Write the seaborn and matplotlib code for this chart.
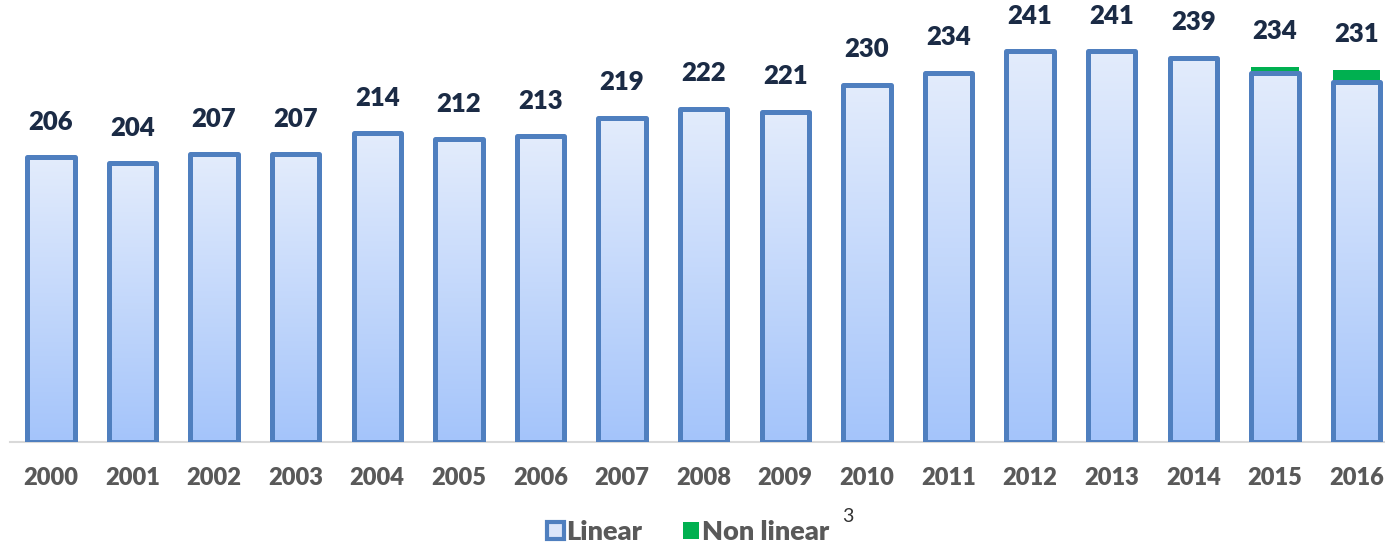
import numpy as np
import pandas as pd
import seaborn as sns
import matplotlib.pyplot as plt
from matplotlib.colors import LinearSegmentedColormap
from matplotlib.patches import Patch

years = [str(y) for y in range(2000, 2017)]
linear = [206, 204, 207, 207, 214, 212, 213, 219, 222, 221, 230, 234, 241, 241, 239, 234, 231]
non_linear = [0, 0, 0, 0, 0, 0, 0, 0, 0, 0, 0, 0, 0, 0, 0, 2, 4]

EDGE = '#4F7FBF'
GREEN = '#00B050'
LABEL = '#1B2B45'
GREY = '#595959'
BASE = 112

df = pd.DataFrame({'year': years, 'linear': linear, 'non_linear': non_linear})
df['total'] = df['linear'] + df['non_linear']

sns.set_style('white')
plt.rcParams['font.family'] = ['Lato', 'DejaVu Sans']

fig = plt.figure(figsize=(13.85, 5.43), dpi=100)
ax = fig.add_axes([0, 101 / 543, 1, 442 / 543])

sns.barplot(data=df, x='year', y='total', color=GREEN, width=0.58, ax=ax)
sns.barplot(data=df, x='year', y='linear', color=EDGE, width=0.58, ax=ax)

n = len(df)
grad = LinearSegmentedColormap.from_list('g', ['#A4C4FA', '#E3ECFC'])
for i, p in enumerate(ax.patches):
    top = p.get_y() + p.get_height()
    p.set_y(BASE)
    p.set_height(top - BASE)
    if i < n:
        p.set_facecolor(GREEN)
        p.set_edgecolor('none')
        p.set_linewidth(0)
        p.set_zorder(1)
    else:
        p.set_facecolor('none')
        p.set_edgecolor(EDGE)
        p.set_linewidth(3.6)
        p.set_joinstyle('round')
        p.set_zorder(3)
        x0, w = p.get_x(), p.get_width()
        im = ax.imshow(np.linspace(0, 1, 256).reshape(-1, 1), cmap=grad,
                       extent=[x0, x0 + w, BASE, top], origin='lower',
                       aspect='auto', zorder=2)
        im.set_clip_path(p)

for i, v in enumerate(linear):
    ax.annotate(str(v), (i, df['total'][i]), xytext=(0, 17), textcoords='offset points',
                ha='center', va='bottom', fontsize=18.5, fontweight='heavy', color=LABEL)

ax.set_xlim(-0.623, 16.35)
ax.set_ylim(BASE, 258)
ax.set_yticks([])
ax.set_xlabel('')
ax.set_ylabel('')
for s in ['top', 'left', 'right']:
    ax.spines[s].set_visible(False)
ax.spines['bottom'].set_color('#D9D9D9')
ax.spines['bottom'].set_linewidth(1.5)
ax.spines['bottom'].set_bounds(-0.5, 16.35)
ax.tick_params(axis='x', length=0, pad=18, labelsize=17, labelcolor=GREY)
for t in ax.get_xticklabels():
    t.set_fontweight('heavy')

handles = [Patch(facecolor='#DCE6FA', edgecolor=EDGE, linewidth=3, label='Linear'),
           Patch(facecolor=GREEN, edgecolor='none', label='Non linear')]
leg = fig.legend(handles=handles, loc='center', bbox_to_anchor=(0.497, 0.02), ncol=2,
                 frameon=False, handlelength=0.6, handleheight=0.6, handletextpad=0.1,
                 columnspacing=1.5, prop={'size': 19.5, 'weight': 'heavy'})
for t in leg.get_texts():
    t.set_color(GREY)
fig.text(848 / 1385, 1 - 517 / 543, '3', ha='center', va='center', fontsize=14, color='#333333')

fig.savefig('out.png', dpi=100)
